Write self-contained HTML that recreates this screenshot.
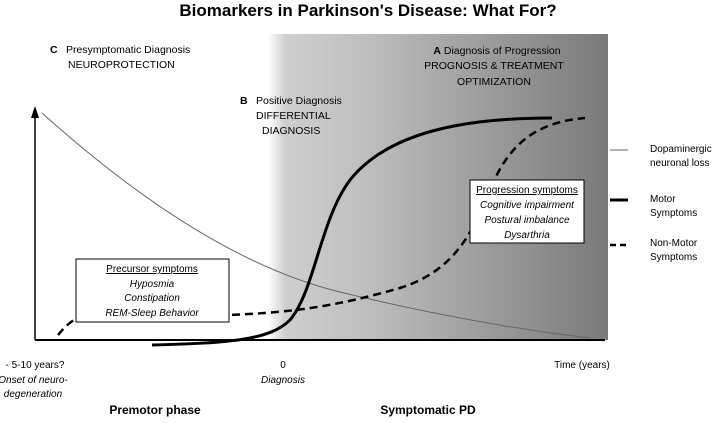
<!DOCTYPE html>
<html><head><style>
body{margin:0;background:#fff;}
svg text{font-family:"Liberation Sans",sans-serif;}
</style></head><body>
<svg width="720" height="418" viewBox="0 0 720 418">
<defs>
<linearGradient id="g" x1="0" x2="1" y1="0" y2="0">
<stop offset="0" stop-color="#fff"/>
<stop offset="0.05" stop-color="#cfcfcf"/>
<stop offset="0.3" stop-color="#bdbdbd"/>
<stop offset="1" stop-color="#7a7a7a"/>
</linearGradient>
</defs>
<text x="368" y="16" font-size="17" font-weight="bold" text-anchor="middle">Biomarkers in Parkinson's Disease: What For?</text>
<rect x="268" y="34" width="340" height="306" fill="url(#g)"/>
<line x1="35" y1="340" x2="605" y2="340" stroke="#000" stroke-width="2"/>
<line x1="35" y1="340" x2="35" y2="116" stroke="#000" stroke-width="1.5"/>
<polygon points="31,118 35,106 39,118" fill="#000"/>
<path d="M42,113 C150,210 250,270 340,292 S520,330 590,338" fill="none" stroke="#666" stroke-width="1"/>
<path d="M152,345 C230,343 270,340 290,320 C315,290 320,220 350,180 C390,130 470,118 552,118" fill="none" stroke="#000" stroke-width="3"/>
<path d="M58,335 C70,320 85,310 110,310 L230,315 C300,312 340,305 400,288 C450,272 470,240 490,190 C510,140 540,122 585,118" fill="none" stroke="#000" stroke-width="2.5" stroke-dasharray="8,5"/>
<rect x="76" y="259" width="153" height="63" fill="#fff" stroke="#000" stroke-width="1"/>
<text font-size="10" text-anchor="middle" x="152"><tspan x="152" y="272" text-decoration="underline">Precursor symptoms</tspan><tspan x="152" y="287" font-style="italic">Hyposmia</tspan><tspan x="152" y="301" font-style="italic">Constipation</tspan><tspan x="152" y="316" font-style="italic">REM-Sleep Behavior</tspan></text>
<rect x="470" y="180" width="114" height="63" fill="#fff" stroke="#000" stroke-width="1"/>
<text font-size="10" text-anchor="middle"><tspan x="527" y="193" text-decoration="underline">Progression symptoms</tspan><tspan x="527" y="208" font-style="italic">Cognitive impairment</tspan><tspan x="527" y="223" font-style="italic">Postural imbalance</tspan><tspan x="527" y="238" font-style="italic">Dysarthria</tspan></text>
<text font-size="10.5"><tspan x="50" y="53" font-weight="bold">C</tspan><tspan x="66" y="53">Presymptomatic Diagnosis</tspan><tspan x="68" y="68">NEUROPROTECTION</tspan></text>
<text font-size="10.5"><tspan x="240" y="104" font-weight="bold">B</tspan><tspan x="256" y="104">Positive Diagnosis</tspan><tspan x="256" y="119">DIFFERENTIAL</tspan><tspan x="262" y="134">DIAGNOSIS</tspan></text>
<text font-size="10.5" text-anchor="middle"><tspan x="497" y="54"><tspan font-weight="bold">A</tspan>  Diagnosis of Progression</tspan><tspan x="494" y="69">PROGNOSIS &amp; TREATMENT</tspan><tspan x="494" y="85">OPTIMIZATION</tspan></text>
<line x1="610" y1="150" x2="628" y2="150" stroke="#666" stroke-width="1"/>
<line x1="610" y1="200" x2="628" y2="200" stroke="#000" stroke-width="3"/>
<line x1="610" y1="245" x2="628" y2="245" stroke="#000" stroke-width="2.5" stroke-dasharray="6,4"/>
<text font-size="10"><tspan x="650" y="152">Dopaminergic</tspan><tspan x="650" y="166">neuronal loss</tspan><tspan x="650" y="202">Motor</tspan><tspan x="650" y="216">Symptoms</tspan><tspan x="650" y="246">Non-Motor</tspan><tspan x="650" y="260">Symptoms</tspan></text>
<text font-size="10" text-anchor="middle"><tspan x="35" y="368">- 5-10 years?</tspan><tspan x="33" y="383" font-style="italic">Onset of neuro-</tspan><tspan x="33" y="397" font-style="italic">degeneration</tspan></text>
<text font-size="10" text-anchor="middle"><tspan x="283" y="368">0</tspan><tspan x="283" y="383" font-style="italic">Diagnosis</tspan></text>
<text font-size="10" x="582" y="368" text-anchor="middle">Time (years)</text>
<text font-size="12" font-weight="bold" x="155" y="414" text-anchor="middle">Premotor phase</text>
<text font-size="12" font-weight="bold" x="428" y="414" text-anchor="middle">Symptomatic PD</text>
</svg>
</body></html>
